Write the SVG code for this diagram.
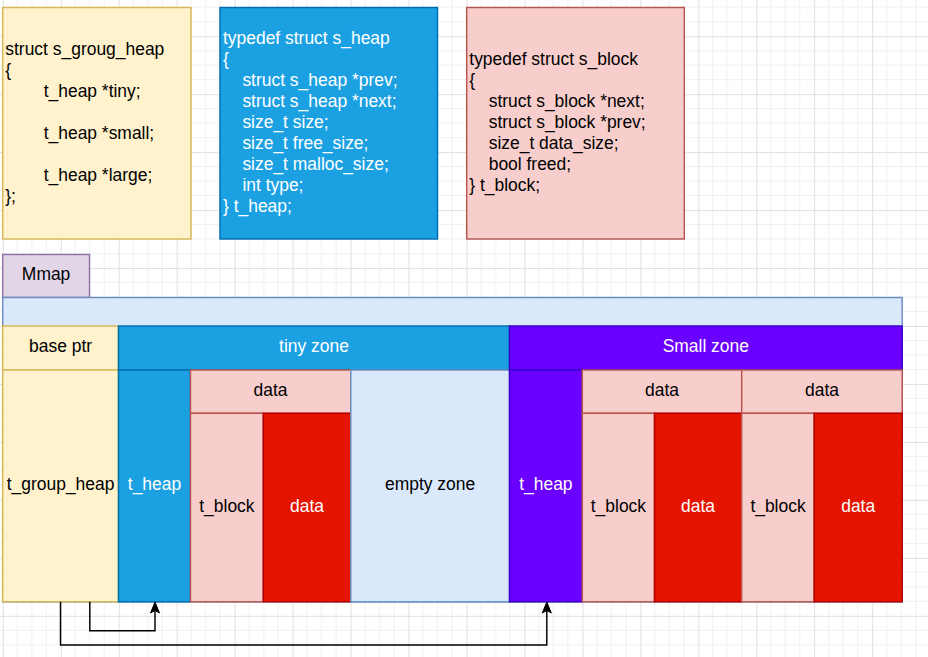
<svg xmlns="http://www.w3.org/2000/svg" width="928" height="657" viewBox="0 0 928 657">
<style>
text{font-family:"Liberation Sans",Arial,Helvetica,sans-serif;font-size:17.46px;fill:#000}
.c{text-anchor:middle}
.w{fill:#fff}
rect{stroke-width:1.45}
.yel{fill:#fff2cc;stroke:#d6b656}
.blu{fill:#1ba1e2;stroke:#006eaf}
.pnk{fill:#f8cecc;stroke:#b85450}
.red{fill:#e51400;stroke:#b20000}
.lbl{fill:#dae8fc;stroke:#6c8ebf}
.vio{fill:#6a00ff;stroke:#3700cc}
.pur{fill:#e1d5e7;stroke:#9673a6}
.conn{fill:none;stroke:#000;stroke-width:1.45}
</style>
<defs>
<pattern id="grid" patternUnits="userSpaceOnUse" x="2.8" y="36.2" width="57.96" height="57.96">
<path d="M14.49 0V57.96M28.98 0V57.96M43.47 0V57.96M0 14.49H57.96M0 28.98H57.96M0 43.47H57.96" stroke="#f0f0f0" stroke-width="1" fill="none"/>
<path d="M0.5 0V57.96M0 0.5H57.96" stroke="#e0e0e0" stroke-width="1" fill="none"/>
</pattern>
<marker id="arr" viewBox="-4 -5 13 10" refX="0" refY="0" markerWidth="13" markerHeight="10" markerUnits="userSpaceOnUse" orient="auto">
<path d="M8 0L-3 -4.5L-0.5 0L-3 4.5Z" fill="#000" stroke="#000" stroke-width="1"/>
</marker>
</defs>
<rect x="0" y="0" width="928" height="657" fill="#fff" stroke="none"/>
<rect x="0" y="0" width="928" height="657" fill="url(#grid)" stroke="none"/>

<g id="struct-group-heap">
<rect class="yel" x="2.7" y="7.5" width="188.3" height="231.5"/>
<text><tspan x="5.3" y="54.5">struct s_groug_heap</tspan><tspan x="5.3" y="75.5">{</tspan><tspan x="43.7" y="96.5">t_heap *tiny;</tspan><tspan x="43.7" y="138.5">t_heap *small;</tspan><tspan x="43.7" y="180.5">t_heap *large;</tspan><tspan x="5.3" y="201.5">};</tspan></text>
</g>

<g id="struct-heap">
<rect class="blu" x="220" y="7.5" width="217.5" height="231.5"/>
<text class="w"><tspan x="223" y="43.5">typedef struct s_heap</tspan><tspan x="223" y="64.5">{</tspan><tspan x="242.4" y="85.5">struct s_heap *prev;</tspan><tspan x="242.4" y="106.5">struct s_heap *next;</tspan><tspan x="242.4" y="127.5">size_t size;</tspan><tspan x="242.4" y="148.5">size_t free_size;</tspan><tspan x="242.4" y="169.5">size_t malloc_size;</tspan><tspan x="242.4" y="190.5">int type;</tspan><tspan x="223" y="211.5">} t_heap;</tspan></text>
</g>

<g id="struct-block">
<rect class="pnk" x="466.7" y="7.5" width="217.6" height="231.5"/>
<text><tspan x="469.3" y="65">typedef struct s_block</tspan><tspan x="469.3" y="86">{</tspan><tspan x="488.7" y="107">struct s_block *next;</tspan><tspan x="488.7" y="128">struct s_block *prev;</tspan><tspan x="488.7" y="149">size_t data_size;</tspan><tspan x="488.7" y="170">bool freed;</tspan><tspan x="469.3" y="191">} t_block;</tspan></text>
</g>

<g id="mmap">
<rect class="pur" x="2.7" y="254.5" width="86.8" height="43"/>
<text class="c" x="46.1" y="280">Mmap</text>
</g>

<g id="mmap-container">
<rect class="lbl" x="2.7" y="297.5" width="899.5" height="304.3"/>
</g>

<g id="base-ptr">
<rect class="yel" x="2.7" y="326" width="115.8" height="44"/>
<text class="c" x="60.6" y="352">base ptr</text>
</g>
<g id="t-group-heap">
<rect class="yel" x="2.7" y="370" width="115.8" height="231.8"/>
<text class="c" x="60.6" y="490">t_group_heap</text>
</g>

<g id="tiny-zone">
<rect class="blu" x="118.5" y="326" width="391" height="44"/>
<text class="c w" x="314" y="352">tiny zone</text>
</g>
<g id="tiny-t-heap">
<rect class="blu" x="118.5" y="370" width="72" height="231.8"/>
<text class="c w" x="154.5" y="490">t_heap</text>
</g>
<g id="tiny-data-header">
<rect class="pnk" x="190.5" y="370" width="160.3" height="43.3"/>
<text class="c" x="270.6" y="395.5">data</text>
</g>
<g id="tiny-t-block">
<rect class="pnk" x="190.5" y="413.3" width="72.8" height="188.5"/>
<text class="c" x="226.9" y="511.7">t_block</text>
</g>
<g id="tiny-data">
<rect class="red" x="263.3" y="413.3" width="87.5" height="188.5"/>
<text class="c w" x="307" y="511.7">data</text>
</g>
<g id="empty-zone">
<rect class="lbl" x="350.8" y="370" width="158.7" height="231.8"/>
<text class="c" x="430.1" y="490">empty zone</text>
</g>

<g id="small-zone">
<rect class="vio" x="509.5" y="326" width="392.7" height="44"/>
<text class="c w" x="705.8" y="352">Small zone</text>
</g>
<g id="small-t-heap">
<rect class="vio" x="509.5" y="370" width="72.8" height="231.8"/>
<text class="c w" x="545.9" y="490">t_heap</text>
</g>
<g id="small-data-header-1">
<rect class="pnk" x="582.3" y="370" width="159.4" height="43.3"/>
<text class="c" x="662" y="395.5">data</text>
</g>
<g id="small-t-block-1">
<rect class="pnk" x="582.3" y="413.3" width="72.2" height="188.5"/>
<text class="c" x="618.4" y="511.7">t_block</text>
</g>
<g id="small-data-1">
<rect class="red" x="654.5" y="413.3" width="87.2" height="188.5"/>
<text class="c w" x="698.1" y="511.7">data</text>
</g>
<g id="small-data-header-2">
<rect class="pnk" x="741.7" y="370" width="160.5" height="43.3"/>
<text class="c" x="822" y="395.5">data</text>
</g>
<g id="small-t-block-2">
<rect class="pnk" x="741.7" y="413.3" width="72.5" height="188.5"/>
<text class="c" x="778" y="511.7">t_block</text>
</g>
<g id="small-data-2">
<rect class="red" x="814.2" y="413.3" width="88" height="188.5"/>
<text class="c w" x="858.2" y="511.7">data</text>
</g>

<g id="connectors">
<path class="conn" d="M89.8 601.8V630.8H155V610" marker-end="url(#arr)"/>
<path class="conn" d="M60.5 601.8V645H546.8V610" marker-end="url(#arr)"/>
</g>
</svg>
